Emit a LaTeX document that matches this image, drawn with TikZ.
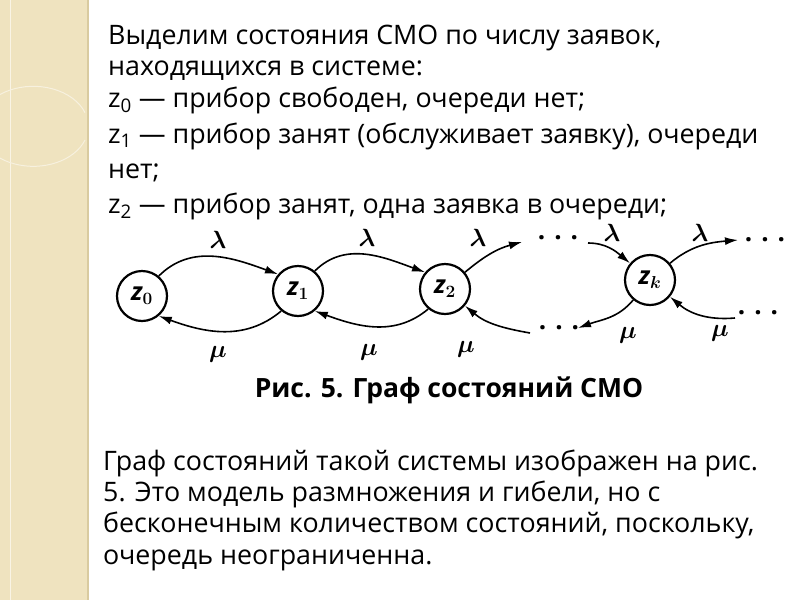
\documentclass[tikz,border=0pt]{standalone}
\usepackage{amsmath}
\usepackage{bm}
\usepackage{fontspec}
\setmainfont{Open Sans}
\usetikzlibrary{arrows.meta}
\definecolor{strip}{HTML}{EFE3BF}
\definecolor{stripline}{HTML}{D9CBA0}
\tikzset{
  state/.style = {draw, circle, line width=2.2pt, minimum size=50pt, inner sep=0pt, font=\fontsize{25}{25}\selectfont\bfseries\itshape},
  edge/.style = {line width=1.6pt, -{Latex[length=13pt,width=8pt]}},
  lbl/.style = {font=\fontsize{28}{28}\selectfont},
  dots/.style = {font=\fontsize{26}{26}\selectfont\bfseries},
  txt/.style = {anchor=base west, inner sep=0pt, font=\fontsize{26.8}{30}\selectfont},
}
\begin{document}
\begin{tikzpicture}[x=1pt, y=-1pt]
\useasboundingbox (0,0) rectangle (800,600);
% background strip
\fill[strip] (0,0) rectangle (88,600);
\draw[stripline, line width=1.5pt] (88,0) -- (88,600);
\draw[white!60!strip, line width=1pt] (10,0) -- (10,600);
\draw[white!50!strip, line width=1pt] (85,140) arc (20:340:55 and 40);
% upper text
\node[txt] (t1) at (108,44) {Выделим состояния СМО по числу заявок,};
\node[txt] (t2) at (108,75) {находящихся в системе:};
\node[txt] (t3) at (108,107) {z\textsubscript{0} — прибор свободен, очереди нет;};
\node[txt] (t4) at (108,143) {z\textsubscript{1} — прибор занят (обслуживает заявку), очереди};
\node[txt] (t5) at (108,178) {нет;};
\node[txt] (t6) at (108,213) {z\textsubscript{2} — прибор занят, одна заявка в очереди;};
% graph
\node[state] (z0) at (142,296) {z$_{\bm 0}$};
\node[state] (z1) at (298,291) {z$_{\bm 1}$};
\node[state] (z2) at (445,289) {z$_{\bm 2}$};
\node[state] (zk) at (650,280) {z$_{\bm k}$};
\coordinate (a2) at (522,242);
\coordinate (b2) at (530,333);
\coordinate (ak) at (588,243);
\coordinate (ck) at (738,240);
\coordinate (dk) at (578,328);
\coordinate (ek) at (735,318);
\draw[edge] (z0.50) to[out=45,in=160] (z1.140);
\draw[edge] (z1.-130) to[out=-140,in=-20] (z0.-50);
\draw[edge] (z1.50) to[out=45,in=160] (z2.140);
\draw[edge] (z2.-130) to[out=-140,in=-20] (z1.-50);
\draw[edge] (z2.40) to[out=40,in=195] (a2);
\draw[edge] (b2) to[out=170,in=-40] (z2.-40);
\draw[edge] (ak) to[out=0,in=140] (zk.140);
\draw[edge] (zk.40) to[out=40,in=185] (ck);
\draw[edge] (zk.-130) to[out=-130,in=20] (dk);
\draw[edge] (ek) to[out=185,in=-40] (zk.-40);
\node[dots] (d1) at (558,238) {. . .};
\node[dots] (d2) at (559,328) {. . .};
\node[dots] (d3) at (765,240) {. . .};
\node[dots] (d4) at (758,313) {. . .};
\node[lbl] (l1) at (218,240) {$\bm\lambda$};
\node[lbl] (l2) at (367,238) {$\bm\lambda$};
\node[lbl] (l3) at (478,238) {$\bm\lambda$};
\node[lbl] (l4) at (612,233) {$\bm\lambda$};
\node[lbl] (l5) at (700,233) {$\bm\lambda$};
\node[lbl] (m1) at (218,354) {$\bm\mu$};
\node[lbl] (m2) at (369,352) {$\bm\mu$};
\node[lbl] (m3) at (466,349) {$\bm\mu$};
\node[lbl] (m4) at (628,335) {$\bm\mu$};
\node[lbl] (m5) at (720,333) {$\bm\mu$};
% caption
\node[font=\fontsize{26.5}{30}\selectfont\bfseries] (cap) at (449,390) {Рис. 5. Граф состояний СМО};
% lower text
\node[txt] (b1) at (103,470) {Граф состояний такой системы изображен на рис.};
\node[txt] (b2t) at (103,501) {5. Это модель размножения и гибели, но с};
\node[txt] (b3) at (103,532) {бесконечным количеством состояний, поскольку,};
\node[txt] (b4) at (103,564) {очередь неограниченна.};
\end{tikzpicture}
\end{document}
